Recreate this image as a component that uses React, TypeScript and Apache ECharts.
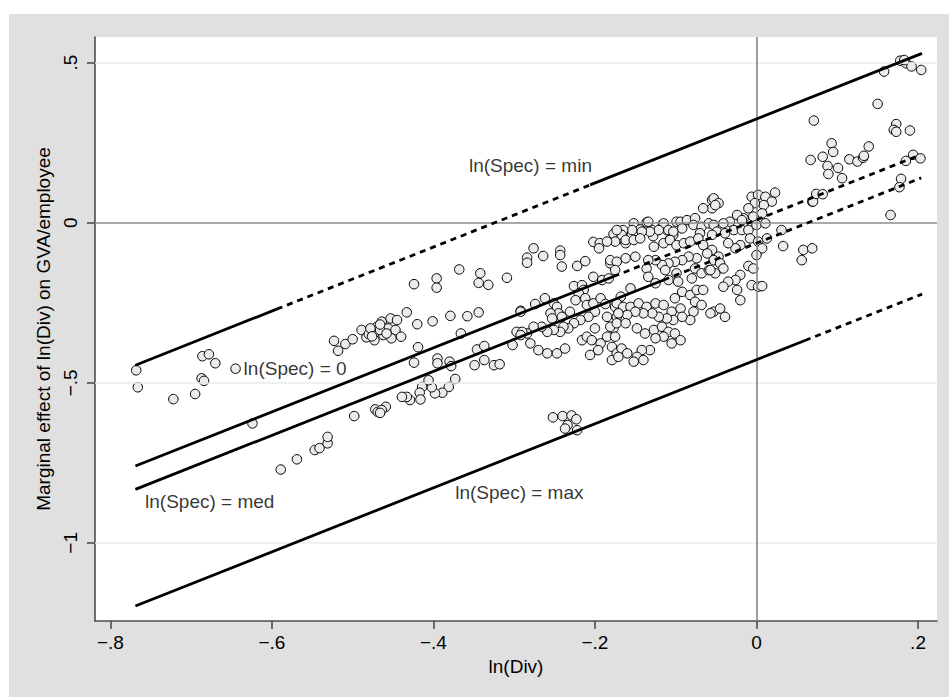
import React, { useEffect, useRef } from "react";
import * as echarts from "echarts";

const FONT = "'Liberation Sans', Arial, Helvetica, sans-serif";

const xTickValues = [-0.8, -0.6, -0.4, -0.2, 0, 0.2];
const xTickLabels = ["−.8", "−.6", "−.4", "−.2", "0", ".2"];
const yTickValues = [-1, -0.5, 0, 0.5];
const yTickLabels = ["−1", "−.5", "0", ".5"];
const yGridValues = [-1, -0.5, 0.5];
const refLineX = [0];
const refLineY = [0];

const xTitle = "ln(Div)";
const yTitle = "Marginal effect of ln(Div) on GVA/employee";

// scatter points: [ln(Div), marginal effect]
const points: number[][] = [
  [-0.768, -0.461], [-0.766, -0.514], [-0.722, -0.551], [-0.695, -0.535], [-0.686, -0.417],
  [-0.678, -0.411], [-0.670, -0.439], [-0.687, -0.486], [-0.684, -0.494], [-0.645, -0.456],
  [-0.624, -0.627], [-0.589, -0.771], [-0.569, -0.739], [-0.547, -0.710], [-0.541, -0.704],
  [-0.531, -0.689], [-0.531, -0.669], [-0.498, -0.604], [-0.472, -0.583], [-0.469, -0.591],
  [-0.523, -0.369], [-0.518, -0.400], [-0.509, -0.379], [-0.500, -0.364], [-0.489, -0.335],
  [-0.483, -0.358], [-0.480, -0.348], [-0.472, -0.344], [-0.473, -0.367], [-0.470, -0.325],
  [-0.464, -0.309], [-0.453, -0.299], [-0.445, -0.304], [-0.456, -0.330], [-0.447, -0.335],
  [-0.462, -0.351], [-0.452, -0.361], [-0.440, -0.356], [-0.466, -0.335], [-0.458, -0.346],
  [-0.478, -0.330], [-0.466, -0.318], [-0.476, -0.355],
  [-0.433, -0.280], [-0.424, -0.192], [-0.396, -0.174], [-0.396, -0.203], [-0.368, -0.146],
  [-0.342, -0.158], [-0.344, -0.188], [-0.332, -0.194], [-0.309, -0.172], [-0.420, -0.317],
  [-0.401, -0.308], [-0.379, -0.291], [-0.358, -0.292], [-0.344, -0.280], [-0.366, -0.346],
  [-0.419, -0.389], [-0.424, -0.437], [-0.395, -0.424], [-0.395, -0.439], [-0.380, -0.434],
  [-0.378, -0.448], [-0.346, -0.396], [-0.337, -0.385], [-0.337, -0.429], [-0.349, -0.445],
  [-0.325, -0.445], [-0.318, -0.442],
  [-0.373, -0.488], [-0.381, -0.513], [-0.389, -0.531], [-0.398, -0.533], [-0.402, -0.514],
  [-0.406, -0.492], [-0.414, -0.513], [-0.417, -0.531], [-0.416, -0.552], [-0.429, -0.554],
  [-0.433, -0.544], [-0.439, -0.544], [-0.459, -0.575], [-0.464, -0.585], [-0.466, -0.594],
  [-0.252, -0.608], [-0.240, -0.604], [-0.229, -0.602], [-0.223, -0.614], [-0.234, -0.632],
  [-0.222, -0.648], [-0.237, -0.643],
  [-0.297, -0.341], [-0.292, -0.275], [-0.302, -0.382],
  [-0.276, -0.080], [-0.284, -0.109], [-0.284, -0.125], [-0.264, -0.104], [-0.243, -0.087],
  [-0.243, -0.101], [-0.241, -0.137], [-0.222, -0.135], [-0.212, -0.120], [-0.202, -0.060],
  [-0.194, -0.064], [-0.195, -0.080], [-0.181, -0.127], [-0.177, -0.035], [-0.165, -0.028],
  [-0.167, -0.049], [-0.162, -0.064], [-0.152, -0.002], [-0.144, -0.021], [-0.136, 0.001],
  [-0.129, -0.023], [-0.128, -0.042], [-0.116, -0.005], [-0.111, -0.023], [-0.107, -0.052],
  [-0.103, -0.038], [-0.099, 0.003],
  [-0.175, -0.059], [-0.181, -0.117], [-0.173, -0.122], [-0.185, -0.059],
  [-0.202, -0.169], [-0.191, -0.179], [-0.183, -0.174], [-0.226, -0.198], [-0.216, -0.195],
  [-0.214, -0.210], [-0.220, -0.221],
  [-0.274, -0.254], [-0.262, -0.236], [-0.251, -0.252], [-0.247, -0.263], [-0.245, -0.283],
  [-0.255, -0.283], [-0.253, -0.299], [-0.241, -0.294], [-0.231, -0.278], [-0.224, -0.242],
  [-0.212, -0.236], [-0.210, -0.257], [-0.202, -0.252], [-0.193, -0.236], [-0.187, -0.254],
  [-0.200, -0.278], [-0.208, -0.294], [-0.218, -0.304], [-0.226, -0.314], [-0.233, -0.330],
  [-0.239, -0.325], [-0.243, -0.341], [-0.251, -0.335], [-0.259, -0.341], [-0.266, -0.325],
  [-0.276, -0.325], [-0.284, -0.346], [-0.290, -0.341], [-0.280, -0.377], [-0.270, -0.398],
  [-0.259, -0.408], [-0.247, -0.408], [-0.237, -0.393], [-0.216, -0.367], [-0.210, -0.356],
  [-0.204, -0.367], [-0.200, -0.330], [-0.193, -0.377], [-0.185, -0.356], [-0.177, -0.330],
  [-0.175, -0.263], [-0.173, -0.294], [-0.185, -0.294], [-0.181, -0.325], [-0.179, -0.388],
  [-0.196, -0.398], [-0.206, -0.413], [-0.179, -0.429], [-0.173, -0.408], [-0.292, -0.278],
  [-0.292, -0.351],
  [-0.134, 0.003], [-0.115, -0.002], [-0.109, -0.023], [-0.094, 0.003], [-0.086, 0.008],
  [-0.076, 0.014], [-0.078, -0.007], [-0.068, -0.013], [-0.070, -0.033], [-0.059, -0.002],
  [-0.055, 0.045], [-0.066, 0.045], [-0.055, 0.071], [-0.092, -0.018], [-0.103, -0.028],
  [-0.121, -0.023], [-0.132, -0.028], [-0.142, -0.028], [-0.154, -0.023], [-0.165, -0.023],
  [-0.167, -0.038], [-0.173, -0.023], [-0.162, -0.054], [-0.152, -0.054], [-0.144, -0.049],
  [-0.150, -0.106], [-0.162, -0.111], [-0.175, -0.148],
  [-0.127, -0.075], [-0.115, -0.064], [-0.107, -0.054], [-0.099, -0.070], [-0.090, -0.064],
  [-0.082, -0.059], [-0.072, -0.049], [-0.066, -0.070], [-0.055, -0.085], [-0.061, -0.096],
  [-0.074, -0.111], [-0.084, -0.106], [-0.092, -0.117], [-0.101, -0.122], [-0.109, -0.127],
  [-0.117, -0.132], [-0.125, -0.117], [-0.134, -0.117], [-0.136, -0.143], [-0.134, -0.169],
  [-0.125, -0.189], [-0.113, -0.148], [-0.109, -0.179], [-0.099, -0.158], [-0.097, -0.184],
  [-0.076, -0.143], [-0.068, -0.158], [-0.059, -0.148], [-0.080, -0.174],
  [-0.156, -0.205], [-0.168, -0.231], [-0.173, -0.252], [-0.165, -0.263], [-0.156, -0.263],
  [-0.146, -0.252], [-0.136, -0.263], [-0.125, -0.252], [-0.115, -0.257], [-0.105, -0.278],
  [-0.094, -0.268], [-0.101, -0.236], [-0.092, -0.216], [-0.082, -0.226], [-0.074, -0.210],
  [-0.066, -0.210], [-0.076, -0.247], [-0.068, -0.257], [-0.078, -0.278], [-0.082, -0.304],
  [-0.092, -0.294], [-0.103, -0.304], [-0.111, -0.299], [-0.121, -0.294], [-0.129, -0.283],
  [-0.140, -0.283], [-0.150, -0.278], [-0.160, -0.288], [-0.171, -0.283], [-0.173, -0.314],
  [-0.162, -0.314], [-0.148, -0.330], [-0.138, -0.346], [-0.127, -0.335], [-0.117, -0.325],
  [-0.109, -0.341], [-0.101, -0.346], [-0.094, -0.367], [-0.105, -0.377], [-0.115, -0.356],
  [-0.125, -0.361], [-0.132, -0.398], [-0.142, -0.398], [-0.148, -0.419], [-0.152, -0.434],
  [-0.140, -0.429], [-0.167, -0.393], [-0.160, -0.408], [-0.171, -0.419], [-0.175, -0.356],
  [-0.053, 0.076], [-0.047, 0.061], [-0.051, 0.055],
  [-0.006, 0.081], [0.002, 0.087], [0.011, 0.081], [0.023, 0.094], [0.019, 0.066],
  [0.009, 0.055], [-0.002, 0.061], [-0.010, 0.045], [0.007, 0.029], [-0.004, 0.019],
  [-0.016, 0.014], [-0.024, 0.024], [-0.018, 0.008], [-0.033, 0.003], [-0.041, -0.002],
  [-0.053, -0.007], [-0.049, -0.028], [-0.055, -0.038], [-0.039, -0.033], [-0.028, -0.023],
  [-0.018, -0.023], [-0.010, -0.023], [0.000, -0.007], [0.011, -0.002], [-0.008, -0.049],
  [0.002, -0.059], [0.013, -0.049], [0.031, -0.023], [0.033, -0.073], [0.007, -0.080],
  [0.000, -0.101], [-0.020, -0.070], [-0.026, -0.080], [-0.035, -0.064], [-0.047, -0.106],
  [-0.053, -0.117], [-0.045, -0.127], [-0.041, -0.143], [-0.051, -0.158], [-0.057, -0.148],
  [-0.010, -0.135], [-0.004, -0.143], [-0.020, -0.163], [-0.026, -0.179], [-0.035, -0.184],
  [-0.041, -0.200], [-0.024, -0.210], [-0.020, -0.242], [-0.006, -0.195], [0.002, -0.200],
  [0.007, -0.198], [-0.053, -0.278], [-0.045, -0.268], [-0.039, -0.294], [-0.057, -0.283],
  [0.069, 0.066], [0.058, -0.085], [0.069, -0.080], [0.056, -0.117],
  [0.178, 0.506], [0.185, 0.498], [0.192, 0.488], [0.204, 0.477], [0.158, 0.472],
  [0.183, 0.508], [0.150, 0.371], [0.071, 0.319], [0.173, 0.308], [0.170, 0.290],
  [0.173, 0.284], [0.190, 0.288], [0.093, 0.248], [0.095, 0.221], [0.082, 0.206],
  [0.067, 0.196], [0.088, 0.177], [0.089, 0.152], [0.101, 0.171], [0.106, 0.139],
  [0.115, 0.198], [0.125, 0.191], [0.132, 0.203], [0.139, 0.238], [0.133, 0.209],
  [0.194, 0.212], [0.185, 0.193], [0.203, 0.201], [0.179, 0.137], [0.177, 0.111],
  [0.166, 0.024], [0.070, 0.066], [0.074, 0.090], [0.082, 0.089],
];

// fitted lines: breakpoints and whether each segment is dashed
const minLineX = [-0.769, -0.594, -0.206, 0.205];
const minLineY = [-0.445, -0.270, 0.118, 0.529];
const minLineDash = [false, true, false];
const zeroLineX = [-0.769, -0.177, 0.203];
const zeroLineY = [-0.760, -0.168, 0.212];
const zeroLineDash = [false, true];
const medLineX = [-0.769, -0.115, 0.204];
const medLineY = [-0.833, -0.179, 0.140];
const medLineDash = [false, true];
const maxLineX = [-0.769, 0.060, 0.205];
const maxLineY = [-1.197, -0.368, -0.223];
const maxLineDash = [false, true];

const lineLabels = ["ln(Spec) = min", "ln(Spec) = 0", "ln(Spec) = med", "ln(Spec) = max"];
const lineLabelX = [-0.356, -0.635, -0.757, -0.373];
const lineLabelY = [0.180, -0.456, -0.872, -0.844];

function fmt(values: number[], labels: string[]) {
  return (v: number) => {
    const i = values.findIndex((t) => Math.abs(t - v) < 1e-9);
    return i >= 0 ? labels[i] : "";
  };
}

function segments(xs: number[], ys: number[], dash: boolean[]) {
  return dash.map((d, i) => ({
    type: "line",
    data: [
      [xs[i], ys[i]],
      [xs[i + 1], ys[i + 1]],
    ],
    symbol: "none",
    silent: true,
    z: 5,
    lineStyle: { color: "#000", width: 2.8, type: d ? [6, 5] : "solid", cap: "butt" },
  }));
}

export default function App() {
  const ref = useRef<HTMLDivElement>(null);
  useEffect(() => {
    if (!ref.current) return;
    const chart = echarts.init(ref.current, undefined, { renderer: "svg" });
    const axisColor = "#4d4d4d";
    const option: any = {
      animation: false,
      backgroundColor: "#e0e0e0",
      textStyle: { fontFamily: FONT },
      grid: {
        left: 86,
        top: 23,
        right: 12,
        bottom: 76,
        show: true,
        backgroundColor: "#ffffff",
        borderWidth: 0,
      },
      xAxis: {
        type: "value",
        min: -0.819,
        max: 0.2235,
        name: xTitle,
        nameLocation: "middle",
        nameGap: 33,
        nameTextStyle: { fontSize: 19, color: "#000", fontFamily: FONT },
        axisLine: { show: true, onZero: false, lineStyle: { color: axisColor, width: 1.6 } },
        axisTick: { show: true, length: 8, customValues: xTickValues, lineStyle: { color: axisColor, width: 1.6 } },
        axisLabel: {
          customValues: xTickValues,
          formatter: fmt(xTickValues, xTickLabels),
          fontSize: 19,
          color: "#000",
          margin: 12,
          fontFamily: FONT,
        },
        splitLine: { show: false },
      },
      yAxis: {
        type: "value",
        min: -1.244,
        max: 0.58,
        name: yTitle,
        nameLocation: "middle",
        nameGap: 37,
        nameTextStyle: { fontSize: 19, color: "#000", fontFamily: FONT },
        axisLine: { show: true, onZero: false, lineStyle: { color: axisColor, width: 1.6 } },
        axisTick: { show: true, length: 8, customValues: yTickValues, lineStyle: { color: axisColor, width: 1.6 } },
        axisLabel: {
          customValues: yTickValues,
          formatter: fmt(yTickValues, yTickLabels),
          rotate: 90,
          fontSize: 19,
          color: "#000",
          margin: 15,
          fontFamily: FONT,
        },
        splitLine: { show: false },
      },
      series: [
        {
          type: "scatter",
          data: [[0, 0]],
          symbolSize: 0,
          silent: true,
          z: 0,
          markLine: {
            silent: true,
            symbol: ["none", "none"],
            label: { show: false },
            lineStyle: { color: "#e6eef1", width: 1.6, type: "solid" },
            data: yGridValues.map((v) => ({ yAxis: v })),
          },
        },
        {
          type: "scatter",
          data: [[0, 0]],
          symbolSize: 0,
          silent: true,
          z: 1,
          markLine: {
            silent: true,
            symbol: ["none", "none"],
            label: { show: false },
            lineStyle: { color: "#8c8c8c", width: 1.7, type: "solid" },
            data: [
              ...refLineY.map((v) => ({ yAxis: v })),
              ...refLineX.map((v) => ({ xAxis: v })),
            ],
          },
        },
        {
          type: "scatter",
          data: points,
          symbol: "circle",
          symbolSize: 9.5,
          z: 3,
          itemStyle: { color: "#ececec", borderColor: "#000", borderWidth: 1, opacity: 1 },
        },
        ...segments(minLineX, minLineY, minLineDash),
        ...segments(zeroLineX, zeroLineY, zeroLineDash),
        ...segments(medLineX, medLineY, medLineDash),
        ...segments(maxLineX, maxLineY, maxLineDash),
        {
          type: "scatter",
          symbolSize: 0,
          silent: true,
          z: 6,
          data: lineLabels.map((name, i) => ({ name, value: [lineLabelX[i], lineLabelY[i]] })),
          label: {
            show: true,
            position: "right",
            distance: 0,
            formatter: "{b}",
            fontSize: 19,
            color: "#000",
            fontFamily: FONT,
          },
        },
      ],
    };
    chart.setOption(option);
    return () => chart.dispose();
  }, []);
  return (
    <div
      ref={ref}
      style={{ position: "absolute", left: 9, top: 14, width: 940, height: 683 }}
    />
  );
}
